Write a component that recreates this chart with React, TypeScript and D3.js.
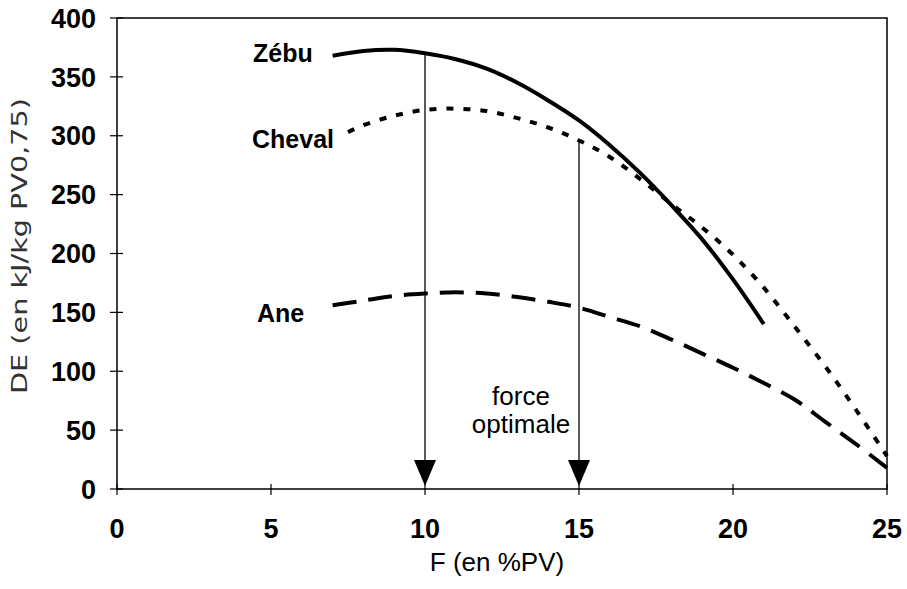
import React, { useEffect, useRef } from "react";
import * as d3 from "d3";

// values: [F (%PV), DE]
const zebu: [number, number][] = [
  [7, 368], [8, 372], [9, 373], [10, 370], [11, 365], [12, 357], [13, 345], [14, 330],
  [15, 313], [16, 292], [17, 268], [18, 241], [19, 212], [20, 178], [21, 140],
];
const cheval: [number, number][] = [
  [7.5, 303], [8, 309], [9, 317], [10, 322], [11, 323], [12, 321], [13, 315], [14, 307],
  [15, 296], [16, 282], [17, 263], [18, 242], [19, 222], [20, 199], [21, 171], [22, 138],
  [23, 104], [24, 67], [25, 28],
];
const ane: [number, number][] = [
  [7, 156], [8, 160], [9, 164], [10, 166], [11, 167], [12, 166], [13, 163], [14, 159],
  [15, 154], [16, 146], [17, 138], [18, 127], [19, 115], [20, 103], [21, 90], [22, 76],
  [23, 57], [24, 38], [25, 18],
];
const xTicks = [0, 5, 10, 15, 20, 25];
const yTicks = [0, 50, 100, 150, 200, 250, 300, 350, 400];
const arrowsAt = [
  { f: 10, from: 370 },
  { f: 15, from: 296 },
];

const App = () => {
  const svgRef = useRef<SVGSVGElement>(null);

  useEffect(() => {
    const width = 907, height = 589;
    const font = "'Liberation Sans', Arial, sans-serif";
    const svg = d3.select(svgRef.current).attr("width", width).attr("height", height).html("");

    const x = d3.scaleLinear().domain([0, 25]).range([117, 887]);
    const y = d3.scaleLinear().domain([0, 400]).range([489, 18]);

    svg.append("rect").attr("width", width).attr("height", height).attr("fill", "#fff");

    // plot frame
    svg.append("rect")
      .attr("x", x(0)).attr("y", y(400))
      .attr("width", x(25) - x(0)).attr("height", y(0) - y(400))
      .attr("fill", "none").attr("stroke", "#000").attr("stroke-width", 1.5);

    // y ticks, crossing the axis
    svg.append("g").selectAll("line").data(yTicks).enter().append("line")
      .attr("x1", x(0) - 7).attr("x2", x(0) + 6)
      .attr("y1", (d) => y(d)).attr("y2", (d) => y(d))
      .attr("stroke", "#000").attr("stroke-width", 1.2);
    svg.append("g").selectAll("text").data(yTicks).enter().append("text")
      .attr("x", 96).attr("y", (d) => y(d)).attr("dy", "0.36em")
      .attr("text-anchor", "end")
      .style("font-family", font).style("font-weight", "bold").style("font-size", "27px")
      .text((d) => d);

    // x ticks
    svg.append("g").selectAll("line").data(xTicks).enter().append("line")
      .attr("x1", (d) => x(d)).attr("x2", (d) => x(d))
      .attr("y1", y(0) - 5).attr("y2", y(0) + 6)
      .attr("stroke", "#000").attr("stroke-width", 1.2);
    svg.append("g").selectAll("text").data(xTicks).enter().append("text")
      .attr("x", (d) => x(d)).attr("y", 538)
      .attr("text-anchor", "middle")
      .style("font-family", font).style("font-weight", "bold").style("font-size", "27px")
      .text((d) => d);

    // axis titles
    svg.append("text")
      .attr("x", 497).attr("y", 571).attr("text-anchor", "middle")
      .style("font-family", font).style("font-size", "26px")
      .text("F (en %PV)");
    svg.append("text")
      .attr("transform", "translate(27,246) rotate(-90)")
      .attr("text-anchor", "middle")
      .attr("textLength", 296).attr("lengthAdjust", "spacingAndGlyphs")
      .style("font-family", "'Liberation Sans Narrow', 'DejaVu Sans Condensed', sans-serif")
      .style("font-size", "22px").style("fill", "#333")
      .text("DE (en kJ/kg PV0,75)");

    // optimal-force arrows
    arrowsAt.forEach((a) => {
      svg.append("line")
        .attr("x1", x(a.f)).attr("x2", x(a.f))
        .attr("y1", y(a.from)).attr("y2", 470)
        .attr("stroke", "#000").attr("stroke-width", 1.3);
      svg.append("path")
        .attr("d", `M${x(a.f) - 11},460 L${x(a.f) + 11},460 L${x(a.f)},486 Z`)
        .attr("fill", "#000");
    });

    const line = d3.line<[number, number]>()
      .x((d) => x(d[0])).y((d) => y(d[1]))
      .curve(d3.curveCatmullRom);

    svg.append("path").datum(zebu).attr("d", line)
      .attr("fill", "none").attr("stroke", "#000").attr("stroke-width", 4);
    svg.append("path").datum(cheval).attr("d", line)
      .attr("fill", "none").attr("stroke", "#000").attr("stroke-width", 4)
      .attr("stroke-dasharray", "7,10");
    svg.append("path").datum(ane).attr("d", line)
      .attr("fill", "none").attr("stroke", "#000").attr("stroke-width", 4)
      .attr("stroke-dasharray", "24,12");

    // series labels
    const labels = [
      { t: "Zébu", x: 253, y: 62 },
      { t: "Cheval", x: 252, y: 148 },
      { t: "Ane", x: 257, y: 322 },
    ];
    svg.append("g").selectAll("text").data(labels).enter().append("text")
      .attr("x", (d) => d.x).attr("y", (d) => d.y)
      .style("font-family", font).style("font-size", "25px")
      .style("font-weight", "bold")
      .text((d) => d.t);

    svg.append("text")
      .attr("x", 521).attr("y", 405).attr("text-anchor", "middle")
      .style("font-family", font).style("font-size", "26px")
      .text("force");
    svg.append("text")
      .attr("x", 521).attr("y", 433).attr("text-anchor", "middle")
      .style("font-family", font).style("font-size", "26px")
      .text("optimale");
  }, []);

  return <svg ref={svgRef} style={{ display: "block", position: "absolute", left: 0, top: 0 }}></svg>;
};

export default App;
